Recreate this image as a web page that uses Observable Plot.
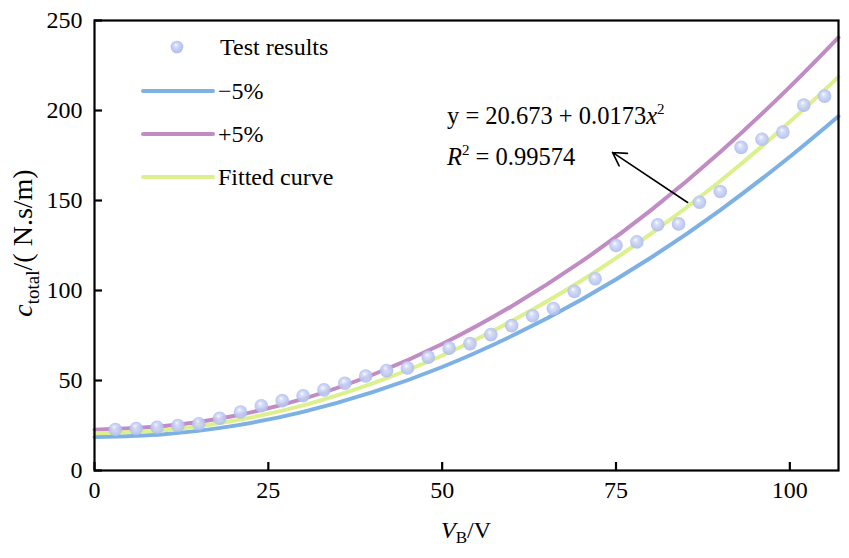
<!DOCTYPE html>
<html>
<head>
<meta charset="utf-8">
<script src="https://cdn.jsdelivr.net/npm/d3@7"></script>
<script src="https://cdn.jsdelivr.net/npm/@observablehq/plot@0.6"></script>
<style>
  html, body { margin: 0; padding: 0; background: #fff; }
  svg { display: block; }
</style>
</head>
<body>
<div id="chart"></div>
<script>
// Curves
const curveX = [0, 10, 20, 30, 40, 50, 60, 70, 80, 90, 100, 107];
const fitted = [20.7, 22.4, 27.6, 36.2, 48.4, 63.9, 83.0, 105.4, 131.4, 160.8, 193.7, 218.7];
const plus5 = [22.7, 24.7, 30.3, 39.8, 53.2, 70.3, 91.3, 116.0, 144.5, 176.9, 213.1, 240.6];
const minus5 = [18.6, 20.2, 24.8, 32.6, 43.5, 57.5, 74.7, 94.9, 118.2, 144.7, 174.3, 196.8];

// Test results
const testX = [3, 6, 9, 12, 15, 18, 21, 24, 27, 30, 33, 36, 39, 42, 45, 48, 51, 54, 57, 60,
               63, 66, 69, 72, 75, 78, 81, 84, 87, 90, 93, 96, 99, 102, 105];
const testY = [22.8, 23.3, 24, 25, 26, 29, 32.5, 36, 38.8, 41.5, 44.8, 48.5, 52.5, 55.5, 57, 63, 68, 70.5, 75.5, 80.5,
               86, 90, 99.5, 106.5, 125, 127, 136.5, 137, 149, 155, 179.5, 184, 188, 203, 208];

const xTicks = [0, 25, 50, 75, 100];
const yTicks = [0, 50, 100, 150, 200, 250];

const seriesNames = ["Test results", "\u22125%", "+5%", "Fitted curve"];
const seriesColors = ["url(#sphere)", "#7db1e3", "#c18cc3", "#dcf08e"];

// Annotation arrow (data units)
const arrowData = [{x1: 85.3, y1: 148.9, x2: 74.5, y2: 176.7}];

const curves = [
  {name: seriesNames[1], ys: minus5, color: seriesColors[1]},
  {name: seriesNames[2], ys: plus5, color: seriesColors[2]},
  {name: seriesNames[3], ys: fitted, color: seriesColors[3]}
];
const lineData = curves.flatMap(c => curveX.map((x, i) => ({x, y: c.ys[i], name: c.name})));
const pts = testX.map((x, i) => ({x, y: testY[i]}));

const W = 849, H = 558;
const font = "'Liberation Serif', 'Times New Roman', serif";

const chart = Plot.plot({
  width: W,
  height: H,
  marginLeft: 94,
  marginRight: 11,
  marginTop: 20,
  marginBottom: 88,
  style: {fontFamily: font, fontSize: "24px", background: "#fff", color: "#000"},
  x: {domain: [0, 107], label: null},
  y: {domain: [0, 250], label: null},
  color: {domain: curves.map(c => c.name), range: curves.map(c => c.color)},
  marks: [
    Plot.line(lineData, {x: "x", y: "y", z: "name", stroke: "name", strokeWidth: 4, curve: "natural"}),
    Plot.dot(pts, {x: "x", y: "y", r: 6.8, fill: "url(#sphere)", fillOpacity: 0.9, stroke: "none"}),
    Plot.frame({stroke: "#000", strokeWidth: 2.2}),
    Plot.axisX(xTicks, {tickSize: 8, dy: -8, strokeWidth: 2.2, tickFormat: () => ""}),
    Plot.axisX(xTicks, {tickSize: 0, tickPadding: 10, fontSize: 24, fontFamily: font}),
    Plot.axisY(yTicks, {tickSize: 8, dx: 8, strokeWidth: 2.2, tickFormat: () => ""}),
    Plot.axisY(yTicks, {tickSize: 0, tickPadding: 12, fontSize: 24, fontFamily: font}),
    Plot.arrow(arrowData, {x1: "x1", y1: "y1", x2: "x2", y2: "y2", stroke: "#000", strokeWidth: 1.6, headLength: 14})
  ]
});

const svg = d3.select(chart);

// Gradient for spheres
const defs = svg.insert("defs", ":first-child");
const grad = defs.append("radialGradient").attr("id", "sphere")
  .attr("cx", "0.5").attr("cy", "0.5").attr("r", "0.55").attr("fx", "0.4").attr("fy", "0.32");
grad.append("stop").attr("offset", "0").attr("stop-color", "#fbfcff");
grad.append("stop").attr("offset", "0.3").attr("stop-color", "#d3daf7");
grad.append("stop").attr("offset", "1").attr("stop-color", "#a9b8ee");

// Legend
const lg = svg.append("g").attr("font-family", font).attr("font-size", 24).attr("text-anchor", "start");
const legendY = [47, 91, 134, 177];
lg.append("circle").attr("cx", 177).attr("cy", legendY[0]).attr("r", 6.3).attr("fill", "url(#sphere)");
for (let i = 1; i < 4; i++) {
  lg.append("line").attr("x1", 143).attr("x2", 213).attr("y1", legendY[i]).attr("y2", legendY[i])
    .attr("stroke", seriesColors[i]).attr("stroke-width", 4).attr("stroke-linecap", "round");
}
seriesNames.forEach((n, i) => {
  lg.append("text").attr("x", i === 0 ? 220 : 218).attr("y", legendY[i] + 8).text(n);
});

// Equation annotation
const eq = svg.append("g").attr("font-family", font).attr("font-size", 24.5).attr("text-anchor", "start");
const t1 = eq.append("text").attr("x", 447).attr("y", 124);
t1.append("tspan").text("y = 20.673 + 0.0173");
t1.append("tspan").attr("font-style", "italic").text("x");
t1.append("tspan").attr("font-size", 15).attr("dy", -10).text("2");
const t2 = eq.append("text").attr("x", 447).attr("y", 165);
t2.append("tspan").attr("font-style", "italic").text("R");
t2.append("tspan").attr("font-size", 15).attr("dy", -10).text("2");
t2.append("tspan").attr("dy", 10).text(" = 0.99574");

// X axis title
const xt = svg.append("text").attr("font-family", font).attr("font-size", 24)
  .attr("x", 466).attr("y", 538).attr("text-anchor", "middle");
xt.append("tspan").attr("font-style", "italic").text("V");
xt.append("tspan").attr("font-size", 17).attr("dy", 5).text("B");
xt.append("tspan").attr("dy", -5).text("/V");

// Y axis title
const yt = svg.append("text").attr("font-family", font).attr("font-size", 28)
  .attr("transform", "translate(32,243) rotate(-90)").attr("text-anchor", "middle");
yt.append("tspan").attr("font-style", "italic").text("c");
yt.append("tspan").attr("font-size", 19).attr("dy", 7).text("total");
yt.append("tspan").attr("dy", -7).text("/( N.s/m)");

document.getElementById("chart").appendChild(chart);
</script>
</body>
</html>
